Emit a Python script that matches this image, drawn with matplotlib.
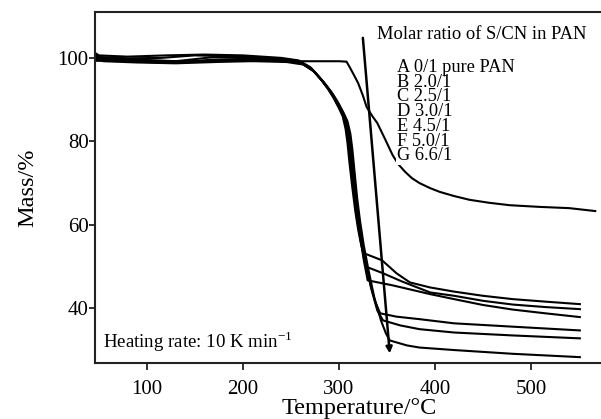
import matplotlib
matplotlib.use('Agg')
import matplotlib.pyplot as plt

plt.rcParams['font.family'] = ['Liberation Serif', 'DejaVu Serif']
plt.rcParams['mathtext.fontset'] = 'custom'
plt.rcParams['mathtext.rm'] = 'Liberation Serif'

# TGA curves (temperature in degC, mass in %)
temp_a = [46, 100, 150, 200, 250, 300, 308, 311, 315, 320, 325, 329, 335, 340, 348, 356,
          362, 369, 376, 384, 395, 405, 420, 436, 456, 478, 509, 540, 567]
mass_a = [99.3, 99.3, 99.2, 99.2, 99.2, 99.2, 99.1, 97.9, 96.2, 94.0, 91.0, 88.2, 86.0, 84.4, 80.6, 76.7,
          74.5, 72.7, 71.2, 70.0, 68.8, 67.9, 66.9, 66.0, 65.3, 64.7, 64.3, 64.0, 63.3]

temp_b = [46, 50, 80, 120, 160, 200, 240, 258, 270, 280, 288, 294, 300, 304, 307, 309, 311, 314, 317,
          320, 323, 326, 345, 360, 374, 395, 420, 450, 481, 515, 551]
mass_b = [101.2, 100.6, 100.3, 100.6, 100.8, 100.6, 100.0, 99.4, 97.8, 95.2, 92.8, 90.6, 88.0, 86.0,
          83.0, 79.6, 75.0, 69.0, 63.5, 59.0, 55.5, 53.2, 51.5, 48.4, 46.2, 45.0, 44.0, 43.0, 42.2, 41.6, 41.0]

temp_c = [46, 52, 80, 115, 150, 200, 240, 259, 271, 281, 289, 295, 301, 305, 308, 310, 312, 315, 318,
          321, 324, 328, 346, 365, 395, 420, 450, 481, 515, 551]
mass_c = [100.8, 100.2, 99.9, 100.0, 100.6, 100.3, 99.8, 99.2, 97.6, 95.0, 92.6, 90.4, 87.8, 85.8,
          82.8, 79.4, 74.8, 68.5, 63.0, 58.5, 54.5, 50.0, 48.4, 46.5, 43.8, 43.0, 41.8, 40.9, 40.3, 39.8]

temp_d = [46, 55, 90, 130, 170, 210, 242, 260, 272, 282, 290, 296, 302, 306, 309, 311, 313, 316, 319,
          322, 326, 330, 356, 395, 420, 450, 481, 515, 551]
mass_d = [100.5, 99.9, 99.6, 99.2, 100.2, 100.1, 99.6, 99.0, 97.3, 94.7, 92.3, 90.1, 87.5, 85.5,
          82.5, 79.0, 74.5, 68.0, 62.5, 57.5, 51.5, 46.7, 45.5, 43.4, 42.2, 40.8, 39.7, 38.8, 37.9]

temp_e = [46, 55, 90, 130, 170, 210, 244, 261, 273, 283, 291, 297, 303, 307, 310, 312, 314, 317, 320,
          323, 327, 333, 338, 343, 360, 384, 420, 481, 551]
mass_e = [100.3, 99.6, 99.3, 98.9, 99.6, 99.8, 99.4, 98.8, 97.0, 94.4, 92.0, 89.8, 87.2, 85.2,
          82.2, 78.8, 74.2, 67.5, 62.0, 57.0, 52.0, 45.5, 41.5, 38.8, 38.0, 37.4, 36.4, 35.6, 34.7]

temp_f = [46, 55, 90, 130, 170, 210, 245, 262, 274, 284, 292, 298, 304, 308, 311, 313, 315, 318, 321,
          324, 328, 334, 340, 346, 364, 384, 420, 481, 551]
mass_f = [100.0, 99.4, 99.1, 98.8, 99.3, 99.5, 99.2, 98.6, 96.8, 94.2, 91.8, 89.6, 87.0, 85.0,
          82.0, 78.5, 74.0, 67.0, 61.5, 56.5, 51.0, 44.5, 39.5, 37.1, 35.9, 35.0, 34.2, 33.5, 32.8]

temp_g = [46, 55, 90, 130, 170, 210, 246, 263, 275, 285, 293, 299, 305, 309, 312, 314, 316, 319, 322,
          326, 331, 337, 344, 349, 353, 371, 384, 420, 481, 551]
mass_g = [99.8, 99.2, 98.9, 98.7, 99.0, 99.3, 99.0, 98.4, 96.6, 94.0, 91.6, 89.4, 86.8, 84.8,
          81.8, 78.2, 73.5, 66.5, 61.0, 55.0, 49.0, 42.5, 37.0, 34.0, 32.3, 31.1, 30.6, 30.0, 29.1, 28.3]

curves = [(temp_a, mass_a), (temp_b, mass_b), (temp_c, mass_c), (temp_d, mass_d),
          (temp_e, mass_e), (temp_f, mass_f), (temp_g, mass_g)]

legend_title = 'Molar ratio of S/CN in PAN'
legend_labels = ['A 0/1 pure PAN', 'B 2.0/1', 'C 2.5/1', 'D 3.0/1', 'E 4.5/1', 'F 5.0/1', 'G 6.6/1']
x_ticks = [100, 200, 300, 400, 500]
y_ticks = [40, 60, 80, 100]

fig = plt.figure(figsize=(6.01, 4.19), dpi=100)
ax = fig.add_axes([0.158, 0.1337, 0.842, 0.8377])

for temp, mass in curves:
    ax.plot(temp, mass, color='black', lw=1.5, solid_joinstyle='round')

# arrow: increasing sulfur content
ax.annotate('', xy=(353, 29.2), xytext=(325, 104.8),
            arrowprops=dict(arrowstyle='-|>', color='black', lw=1.8, mutation_scale=9,
                            shrinkA=0, shrinkB=0))

ax.set_xlim(46, 573)
ax.set_ylim(26.9, 111)
ax.set_xticks(x_ticks)
ax.set_yticks(y_ticks)
ax.spines['right'].set_visible(False)
for side in ['left', 'top', 'bottom']:
    ax.spines[side].set_linewidth(1.5)
    ax.spines[side].set_color('#222222')
ax.tick_params(direction='out', width=1.3, color='#222222', labelsize=15)
ax.tick_params(axis='x', length=5, pad=7)
ax.tick_params(axis='y', length=4, pad=0.5)

ax.set_xlabel('Temperature/°C', fontsize=17.5)
ax.xaxis.set_label_coords(0.522, -0.145)
ax.xaxis.label.set_va('baseline')
ax.set_ylabel('Mass/%', fontsize=17.5)
ax.yaxis.set_label_coords(-0.112, 0.5)

ax.text(339.6, 104.6, legend_title, fontsize=13.3, va='baseline', ha='left')
# sample list as one block; the white box breaks curve A like in the original
ax.text(360.4, 99.8, '\n'.join(legend_labels), fontsize=13.2, va='top', ha='left',
        linespacing=0.83, bbox=dict(facecolor='white', edgecolor='none', pad=0.3))

ax.text(54.2, 30.5, 'Heating rate: 10 K min$^{-1}$', fontsize=13.6, va='baseline', ha='left')

fig.savefig('out.png', dpi=100)
